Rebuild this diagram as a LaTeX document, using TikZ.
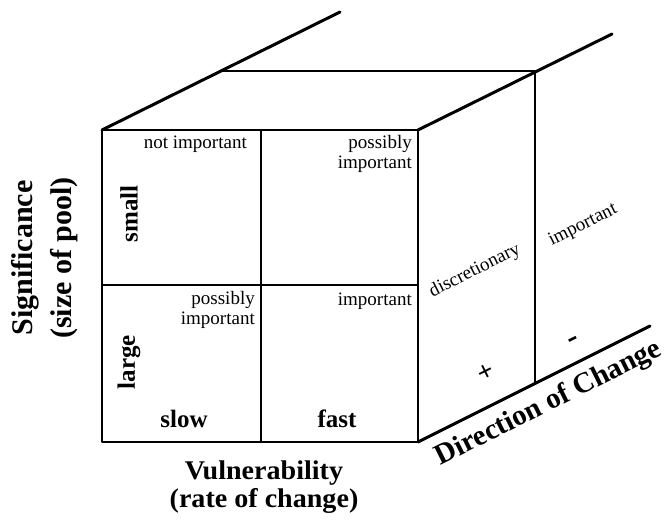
\documentclass[tikz,border=0pt]{standalone}
\usepackage{fontspec}
\setmainfont{Liberation Serif}
\begin{document}
\begin{tikzpicture}[x=1pt,y=-1pt,
  diag/.style={line width=3pt,line cap=round},
  frontbox/.style={line width=2.6pt,line join=round},
  backline/.style={line width=2.2pt},
  cross/.style={line width=2.1pt},
  cell/.style={font=\fontsize{19}{20}\selectfont,inner sep=0pt,align=right},
  facelab/.style={font=\fontsize{19}{20}\selectfont,inner sep=0pt,rotate=26.57},
  sign/.style={font=\bfseries\fontsize{28}{30}\selectfont,inner sep=0pt,rotate=26.57},
  level/.style={font=\bfseries\fontsize{25}{26}\selectfont,inner sep=0pt},
  axistitle/.style={font=\bfseries\fontsize{27}{28}\selectfont,inner sep=0pt,align=center}]
\useasboundingbox (0,0) rectangle (669,527);
% corners of the cube
\coordinate (A) at (102,130);
\coordinate (B) at (418,130);
\coordinate (C) at (418,442);
\coordinate (D) at (102,442);
\coordinate (BA) at (219,71);
\coordinate (BB) at (535,71);
\coordinate (BC) at (535,383);
\coordinate (E1) at (340,12);
\coordinate (E2) at (612,34);
\coordinate (E3) at (650,326);
\coordinate (MT) at (261,130);
\coordinate (MB) at (261,442);
\coordinate (ML) at (102,285);
\coordinate (MR) at (418,285);
% lines
\draw[diag] (A) -- (E1);
\draw[diag] (B) -- (E2);
\draw[diag] (C) -- (E3);
\draw[backline] (BA) -- (BB);
\draw[backline] (BB) -- (BC);
\draw[frontbox] (A) rectangle (C);
\draw[cross] (MT) -- (MB);
\draw[cross] (ML) -- (MR);
% cell texts
\node[cell,anchor=base east] (c11) at (247,148) {not important};
\node[cell,anchor=north east] (c12) at (412,135) {possibly\\important};
\node[cell,anchor=north east] (c21) at (255,291) {possibly\\important};
\node[cell,anchor=base east] (c22) at (412,305) {important};
% levels
\node[level,rotate=90] (small) at (129,214) {small};
\node[level,rotate=90] (large) at (129,362) {large};
\node[level,anchor=base] (slow) at (184,427) {slow};
\node[level,anchor=base] (fast) at (337,427) {fast};
% side faces
\node[facelab,anchor=base] (disc) at (477,275) {discretionary};
\node[facelab,anchor=base] (imp) at (585,229) {important};
\node[sign] (plus) at (486,373) {+};
\node[sign,font=\bfseries\fontsize{32}{34}\selectfont] (minus) at (574,342) {-};
% axis titles
\node[axistitle,rotate=90,font=\bfseries\fontsize{30}{39}\selectfont] (sig) at (45,258) {Significance\\(size of pool)};
\node[axistitle,anchor=north,xscale=1.04] (vul) at (264,460.5) {Vulnerability\\(rate of change)};
\node[axistitle,anchor=base,rotate=26.57,font=\bfseries\fontsize{29}{30}\selectfont] (dir) at (552,410) {Direction of Change};
\end{tikzpicture}
\end{document}
